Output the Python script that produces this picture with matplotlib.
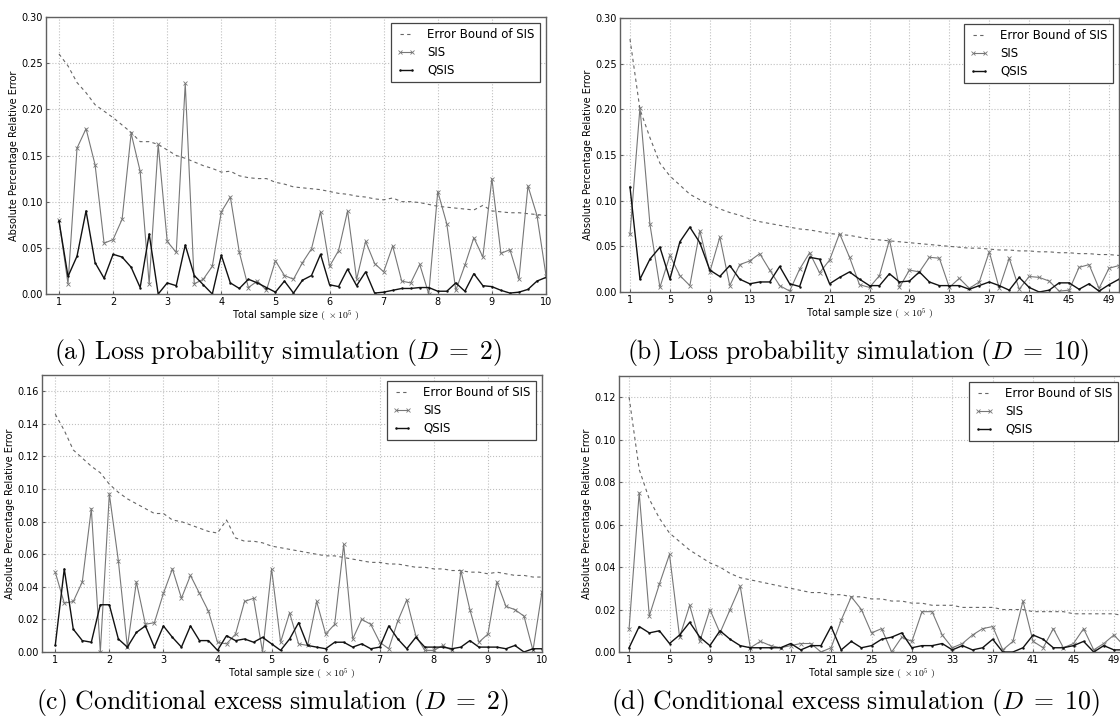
import numpy as np
import matplotlib
matplotlib.use('Agg')
import matplotlib.pyplot as plt

plt.rcParams['mathtext.fontset'] = 'cm'
plt.rcParams['font.family'] = ['DejaVu Sans']

# sample sizes (x10^5)
x_d2 = np.arange(6, 61) / 6.0
x_d10 = np.arange(1, 51)

# (a) loss probability, D = 2
bound_a = [0.260, 0.247, 0.229, 0.218, 0.205, 0.198, 0.191, 0.183, 0.175, 0.165,
           0.165, 0.162, 0.156, 0.150, 0.147, 0.143, 0.139, 0.136, 0.132, 0.133,
           0.128, 0.126, 0.125, 0.125, 0.121, 0.119, 0.116, 0.115, 0.114, 0.113,
           0.111, 0.109, 0.108, 0.106, 0.105, 0.103, 0.102, 0.104, 0.100, 0.100,
           0.099, 0.097, 0.095, 0.094, 0.093, 0.092, 0.091, 0.096, 0.090, 0.089,
           0.088, 0.088, 0.087, 0.086, 0.085]
sis_a = [0.080, 0.011, 0.158, 0.179, 0.140, 0.055, 0.059, 0.081, 0.174, 0.133,
         0.011, 0.162, 0.057, 0.045, 0.228, 0.011, 0.016, 0.030, 0.089, 0.105,
         0.045, 0.007, 0.014, 0.004, 0.036, 0.020, 0.016, 0.034, 0.049, 0.089,
         0.030, 0.047, 0.090, 0.016, 0.057, 0.033, 0.024, 0.052, 0.014, 0.012,
         0.032, 0.000, 0.111, 0.076, 0.004, 0.031, 0.061, 0.040, 0.125, 0.044,
         0.048, 0.016, 0.117, 0.085, 0.020]
qsis_a = [0.079, 0.019, 0.041, 0.090, 0.034, 0.017, 0.043, 0.040, 0.029, 0.007,
          0.065, 0.000, 0.012, 0.009, 0.053, 0.020, 0.010, 0.000, 0.042, 0.012,
          0.006, 0.016, 0.012, 0.007, 0.002, 0.014, 0.001, 0.015, 0.020, 0.043,
          0.010, 0.008, 0.027, 0.009, 0.024, 0.001, 0.002, 0.004, 0.006, 0.006,
          0.007, 0.007, 0.003, 0.003, 0.012, 0.003, 0.022, 0.009, 0.008, 0.004,
          0.001, 0.002, 0.005, 0.014, 0.018]

# (b) loss probability, D = 10
bound_b = [0.277, 0.200, 0.169, 0.141, 0.127, 0.117, 0.107, 0.101, 0.096, 0.091,
           0.087, 0.084, 0.080, 0.077, 0.075, 0.073, 0.071, 0.069, 0.068, 0.066,
           0.064, 0.063, 0.062, 0.060, 0.058, 0.057, 0.056, 0.055, 0.054, 0.053,
           0.052, 0.051, 0.050, 0.049, 0.048, 0.048, 0.047, 0.046, 0.046, 0.045,
           0.045, 0.044, 0.044, 0.043, 0.043, 0.042, 0.042, 0.041, 0.041, 0.040]
sis_b = [0.063, 0.202, 0.074, 0.005, 0.040, 0.018, 0.007, 0.067, 0.022, 0.060,
         0.007, 0.030, 0.034, 0.042, 0.024, 0.007, 0.001, 0.025, 0.043, 0.021,
         0.035, 0.064, 0.038, 0.008, 0.005, 0.018, 0.057, 0.005, 0.024, 0.022,
         0.038, 0.037, 0.005, 0.015, 0.004, 0.011, 0.044, 0.004, 0.037, 0.003,
         0.017, 0.016, 0.012, 0.001, 0.002, 0.027, 0.030, 0.004, 0.026, 0.029]
qsis_b = [0.115, 0.014, 0.036, 0.049, 0.014, 0.055, 0.071, 0.054, 0.024, 0.017,
          0.029, 0.014, 0.009, 0.011, 0.011, 0.028, 0.009, 0.006, 0.038, 0.036,
          0.009, 0.016, 0.022, 0.014, 0.007, 0.007, 0.020, 0.011, 0.012, 0.022,
          0.011, 0.007, 0.007, 0.007, 0.003, 0.007, 0.011, 0.007, 0.002, 0.016,
          0.005, 0.000, 0.002, 0.010, 0.010, 0.003, 0.009, 0.001, 0.008, 0.014]

# (c) conditional excess, D = 2
bound_c = [0.146, 0.136, 0.124, 0.119, 0.114, 0.110, 0.103, 0.098, 0.094, 0.091,
           0.088, 0.085, 0.085, 0.081, 0.080, 0.078, 0.076, 0.074, 0.073, 0.081,
           0.070, 0.068, 0.068, 0.067, 0.065, 0.064, 0.063, 0.062, 0.061, 0.060,
           0.059, 0.059, 0.058, 0.057, 0.056, 0.055, 0.055, 0.054, 0.054, 0.053,
           0.052, 0.052, 0.051, 0.051, 0.050, 0.050, 0.049, 0.049, 0.048, 0.049,
           0.048, 0.047, 0.047, 0.046, 0.046]
sis_c = [0.049, 0.030, 0.031, 0.043, 0.088, 0.000, 0.097, 0.056, 0.003, 0.043,
         0.017, 0.018, 0.036, 0.051, 0.033, 0.047, 0.036, 0.025, 0.006, 0.005,
         0.011, 0.031, 0.033, 0.000, 0.051, 0.006, 0.024, 0.005, 0.004, 0.031,
         0.011, 0.017, 0.066, 0.008, 0.020, 0.017, 0.006, 0.002, 0.019, 0.032,
         0.010, 0.001, 0.001, 0.004, 0.001, 0.050, 0.026, 0.006, 0.011, 0.043,
         0.028, 0.026, 0.022, 0.001, 0.037]
qsis_c = [0.004, 0.051, 0.014, 0.007, 0.006, 0.029, 0.029, 0.008, 0.003, 0.012,
          0.016, 0.003, 0.016, 0.009, 0.003, 0.016, 0.007, 0.007, 0.001, 0.010,
          0.007, 0.008, 0.006, 0.009, 0.005, 0.001, 0.008, 0.018, 0.004, 0.003,
          0.002, 0.006, 0.006, 0.003, 0.005, 0.002, 0.003, 0.016, 0.008, 0.002,
          0.009, 0.003, 0.003, 0.003, 0.002, 0.003, 0.007, 0.003, 0.003, 0.003,
          0.002, 0.004, 0.000, 0.002, 0.002]

# (d) conditional excess, D = 10
bound_d = [0.120, 0.086, 0.072, 0.063, 0.056, 0.052, 0.048, 0.045, 0.042, 0.040,
           0.037, 0.035, 0.034, 0.033, 0.032, 0.031, 0.030, 0.029, 0.028, 0.028,
           0.027, 0.027, 0.026, 0.026, 0.025, 0.025, 0.024, 0.024, 0.023, 0.023,
           0.022, 0.022, 0.022, 0.021, 0.021, 0.021, 0.021, 0.020, 0.020, 0.020,
           0.019, 0.019, 0.019, 0.019, 0.018, 0.018, 0.018, 0.018, 0.018, 0.017]
sis_d = [0.011, 0.075, 0.017, 0.032, 0.046, 0.007, 0.022, 0.005, 0.020, 0.009,
         0.020, 0.031, 0.002, 0.005, 0.003, 0.002, 0.003, 0.004, 0.004, 0.000,
         0.002, 0.015, 0.026, 0.020, 0.009, 0.011, 0.000, 0.007, 0.005, 0.019,
         0.019, 0.008, 0.002, 0.004, 0.008, 0.011, 0.012, 0.001, 0.005, 0.024,
         0.005, 0.002, 0.011, 0.002, 0.004, 0.011, 0.001, 0.004, 0.008, 0.003]
qsis_d = [0.002, 0.012, 0.009, 0.010, 0.004, 0.008, 0.014, 0.007, 0.003, 0.010,
          0.006, 0.003, 0.002, 0.002, 0.002, 0.002, 0.004, 0.001, 0.003, 0.003,
          0.012, 0.001, 0.005, 0.002, 0.003, 0.006, 0.007, 0.009, 0.002, 0.003,
          0.003, 0.004, 0.001, 0.003, 0.001, 0.002, 0.006, 0.000, 0.000, 0.002,
          0.008, 0.006, 0.002, 0.002, 0.003, 0.005, 0.000, 0.003, 0.001, 0.001]

xticks_d2 = list(range(1, 11))
xticks_d10 = list(range(1, 51, 4))

captions = [r'$\mathrm{(a)\ Loss\ probability\ simulation\ }(D\;=\;2)$',
            r'$\mathrm{(b)\ Loss\ probability\ simulation\ }(D\;=\;10)$',
            r'$\mathrm{(c)\ Conditional\ excess\ simulation\ }(D\;=\;2)$',
            r'$\mathrm{(d)\ Conditional\ excess\ simulation\ }(D\;=\;10)$']

W, H = 1120, 724


def px_axes(fig, left, top, right, bottom):
    return fig.add_axes([left / W, 1 - bottom / H, (right - left) / W, (bottom - top) / H])


def draw_panel(ax, x, bound, sis, qsis, xlim, ylim, xticks, yticks):
    ax.plot(x, bound, color='#666666', linestyle='--', dashes=(3, 3),
            linewidth=0.8, label='Error Bound of SIS')
    ax.plot(x, sis, color='#777777', linewidth=0.8, marker='x',
            markersize=2.5, markeredgewidth=0.6, label='SIS')
    ax.plot(x, qsis, color='#111111', linewidth=1.0, marker='.',
            markersize=1.5, label='QSIS')
    ax.set_xlim(*xlim)
    ax.set_ylim(*ylim)
    ax.set_xticks(xticks)
    ax.set_yticks(yticks)
    ax.grid(True, color='#c0c0c0', linestyle=':', linewidth=0.8)
    for s in ax.spines.values():
        s.set_color('#606060')
        s.set_linewidth(1.0)
    ax.tick_params(labelsize=7, length=2, pad=2, direction='in', color='#606060')
    ax.set_xlabel(r'Total sample size $(\ \times10^5\ )$', fontsize=7, labelpad=1)
    ax.set_ylabel('Absolute Percentage Relative Error', fontsize=7, labelpad=2)
    leg = ax.legend(loc='upper right', fontsize=8.5, numpoints=2, handlelength=1.6,
                    handletextpad=1.0, borderaxespad=0.5, fancybox=False,
                    framealpha=1, borderpad=0.45, labelspacing=0.4)
    leg.get_frame().set_edgecolor('#444444')
    leg.get_frame().set_linewidth(0.9)


fig = plt.figure(figsize=(11.2, 7.24), dpi=100)

ax_a = px_axes(fig, 46, 17, 546, 294)
draw_panel(ax_a, x_d2, bound_a, sis_a, qsis_a, (0.76, 10), (0, 0.30),
           xticks_d2, np.arange(0, 0.31, 0.05))
ax_b = px_axes(fig, 620, 18, 1119, 292)
draw_panel(ax_b, x_d10, bound_b, sis_b, qsis_b, (0, 50), (0, 0.30),
           xticks_d10, np.arange(0, 0.31, 0.05))
ax_c = px_axes(fig, 42, 375, 542, 652)
draw_panel(ax_c, x_d2, bound_c, sis_c, qsis_c, (0.755, 10), (0, 0.17),
           xticks_d2, np.arange(0, 0.17, 0.02))
ax_d = px_axes(fig, 619, 376, 1124, 652)
draw_panel(ax_d, x_d10, bound_d, sis_d, qsis_d, (0, 50), (0, 0.13),
           xticks_d10, np.arange(0, 0.13, 0.02))

cap_pos = [(278, 352), (858, 352), (272, 702), (855, 702)]
for (cx, cy), cap in zip(cap_pos, captions):
    fig.text(cx / W, 1 - cy / H, cap, fontsize=18.5, ha='center', va='center')

fig.savefig('out.png', dpi=100)
